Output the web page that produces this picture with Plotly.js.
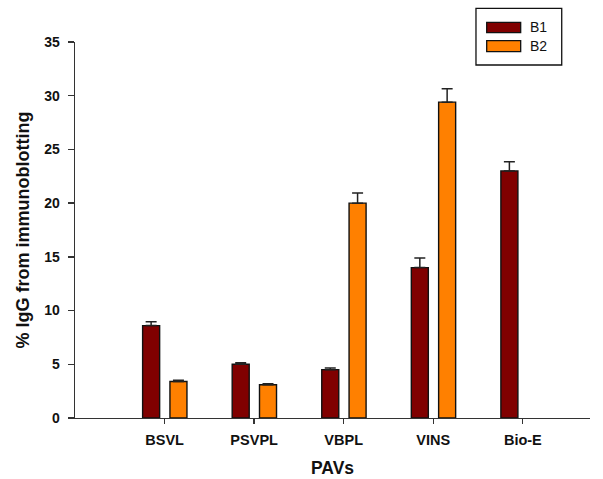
<!DOCTYPE html>
<html>
<head>
<meta charset="utf-8">
<script src="https://cdn.plot.ly/plotly-3.0.1.min.js"></script>
<style>
  html, body { margin: 0; padding: 0; background: #fff; }
  #chart { width: 603px; height: 479px; }
</style>
</head>
<body>
<div id="chart"></div>
<script>
// PAV categories and the two groups' IgG percentages with upper error
const categories = ["BSVL", "PSVPL", "VBPL", "VINS", "Bio-E"];
const seriesNames = ["B1", "B2"];
const b1Values = [8.6, 5.0, 4.5, 14.0, 23.0];
const b1Errors = [0.35, 0.15, 0.15, 0.9, 0.85];
const b2Values = [3.4, 3.1, 20.0, 29.4, null];
const b2Errors = [0.12, 0.08, 0.95, 1.25, null];
const yTicks = [0, 5, 10, 15, 20, 25, 30, 35];

const colors = ["#800000", "#FF8000"];
const font = "Arial, 'Liberation Sans', sans-serif";

function barTrace(name, y, err, color, offset) {
  return {
    type: "bar",
    name: name,
    x: categories,
    y: y,
    width: 0.19,
    offset: offset,
    marker: { color: color, line: { color: "#111", width: 1.4 } },
    error_y: {
      type: "data", symmetric: false, array: err, arrayminus: err.map(() => 0),
      color: "#222", thickness: 1.5, width: 5.5
    },
    showlegend: false,
    hoverinfo: "x+y"
  };
}

const data = [
  barTrace(seriesNames[0], b1Values, b1Errors, colors[0], -0.245),
  barTrace(seriesNames[1], b2Values, b2Errors, colors[1], 0.06)
];

// legend drawn as a box with wide swatches, in plot-paper coordinates
const shapes = [
  { type: "rect", xref: "paper", yref: "paper", x0: 0.7786, x1: 0.9451, y0: 0.9388, y1: 1.0896,
    line: { color: "#111", width: 1.3 }, fillcolor: "#fff" },
  { type: "rect", xref: "paper", yref: "paper", x0: 0.7994, x1: 0.8654, y0: 1.0247, y1: 1.0524,
    line: { color: "#111", width: 1.3 }, fillcolor: colors[0] },
  { type: "rect", xref: "paper", yref: "paper", x0: 0.7994, x1: 0.8654, y0: 0.9742, y1: 1.0035,
    line: { color: "#111", width: 1.3 }, fillcolor: colors[1] }
];
const annotations = seriesNames.map((n, i) => ({
  xref: "paper", yref: "paper", x: 0.88, y: i === 0 ? 1.0386 : 0.9889,
  xanchor: "left", yanchor: "middle", showarrow: false, text: n,
  font: { family: font, size: 14, color: "#111" }
}));

const layout = {
  width: 603, height: 479,
  margin: { l: 75, r: 13, t: 42, b: 61, pad: 0 },
  paper_bgcolor: "#fff", plot_bgcolor: "#fff",
  bargap: 0, barmode: "group",
  xaxis: {
    type: "category", range: [-1, 4.75],
    showline: true, linecolor: "#333", linewidth: 1.3,
    ticks: "outside", ticklen: 5, tickcolor: "#333", tickwidth: 1.3,
    ticklabelstandoff: 3,
    showgrid: false, zeroline: false,
    tickfont: { family: font, size: 14.5, color: "#111", weight: "bold" },
    title: { text: "PAVs", font: { family: font, size: 17.5, color: "#111", weight: "bold" }, standoff: 15 }
  },
  yaxis: {
    range: [0, 35], tickvals: yTicks,
    showline: true, linecolor: "#333", linewidth: 1.3,
    ticks: "outside", ticklen: 6, tickcolor: "#333", tickwidth: 1.3,
    ticklabelstandoff: 5,
    showgrid: false, zeroline: false,
    tickfont: { family: font, size: 14, color: "#111", weight: "bold" },
    title: { text: "% IgG from immunoblotting", font: { family: font, size: 18, color: "#111", weight: "bold" }, standoff: 10 }
  },
  shapes: shapes,
  annotations: annotations,
  showlegend: false
};

Plotly.newPlot("chart", data, layout, { displayModeBar: false, staticPlot: true });
</script>
</body>
</html>
